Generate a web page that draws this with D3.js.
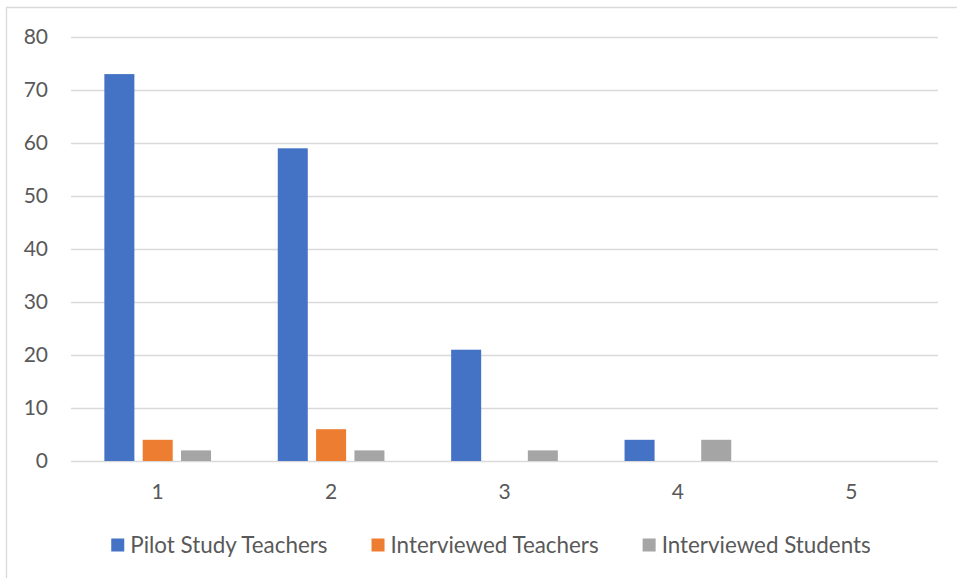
<!DOCTYPE html>
<html>
<head>
<meta charset="utf-8">
<title>Bar chart</title>
<style>
  body { margin: 0; background: #fff; }
  text { font-family: Lato, "Open Sans", sans-serif; fill: #595959; }
</style>
</head>
<body>
<div id="chart"></div>
<script src="https://d3js.org/d3.v7.min.js"></script>
<script>
// data
var categories = ["1", "2", "3", "4", "5"];
var seriesNames = ["Pilot Study Teachers", "Interviewed Teachers", "Interviewed Students"];
var pilotTeachers = [73, 59, 21, 4, 0];
var interviewedTeachers = [4, 6, 0, 0, 0];
var interviewedStudents = [2, 2, 2, 4, 0];
var yTicks = [0, 10, 20, 30, 40, 50, 60, 70, 80];
var colors = ["#4472C4", "#ED7D31", "#A5A5A5"];

var seriesValues = [pilotTeachers, interviewedTeachers, interviewedStudents];

var width = 957, height = 578;
var plotLeft = 71, plotRight = 938, plotTop = 37, plotBottom = 461;

var svg = d3.select("#chart").append("svg")
    .attr("width", width)
    .attr("height", height);

// outer frame
svg.append("path")
    .attr("d", "M6.5,578 V7.5 H957")
    .attr("fill", "none")
    .attr("stroke", "#d9d9d9")
    .attr("stroke-width", 1.3);

var y = d3.scaleLinear().domain([0, 80]).range([plotBottom, plotTop]);

var x0 = d3.scaleBand().domain(categories).range([plotLeft, plotRight])
    .paddingInner(0.337).paddingOuter(0.337 / 2);

var x1 = d3.scaleBand().domain(seriesNames).range([0, x0.bandwidth()])
    .paddingInner(0.217).paddingOuter(0.108);

// gridlines
svg.append("g").selectAll("line")
    .data(yTicks)
    .join("line")
    .attr("x1", plotLeft).attr("x2", plotRight)
    .attr("y1", function(d) { return Math.round(y(d)) + 0.5; })
    .attr("y2", function(d) { return Math.round(y(d)) + 0.5; })
    .attr("stroke", "#d9d9d9")
    .attr("stroke-width", 1.3);

// y labels
svg.append("g").selectAll("text")
    .data(yTicks)
    .join("text")
    .attr("x", 48)
    .attr("y", function(d) { return y(d); })
    .attr("dy", "0.35em")
    .attr("text-anchor", "end")
    .attr("font-size", 21)
    .text(function(d) { return d; });

// bars
var groups = svg.append("g").selectAll("g")
    .data(categories)
    .join("g")
    .attr("transform", function(d) { return "translate(" + x0(d) + ",0)"; });

groups.selectAll("rect")
    .data(function(c, i) {
        return seriesNames.map(function(s, j) {
            return { series: s, value: seriesValues[j][i], color: colors[j] };
        });
    })
    .join("rect")
    .filter(function(d) { return d.value > 0; })
    .attr("x", function(d) { return x1(d.series); })
    .attr("width", x1.bandwidth())
    .attr("y", function(d) { return y(d.value); })
    .attr("height", function(d) { return y(0) - y(d.value); })
    .attr("fill", function(d) { return d.color; });

// x labels
svg.append("g").selectAll("text")
    .data(categories)
    .join("text")
    .attr("x", function(d) { return x0(d) + x0.bandwidth() / 2; })
    .attr("y", 492)
    .attr("dy", "0.35em")
    .attr("text-anchor", "middle")
    .attr("font-size", 21)
    .text(function(d) { return d; });

// legend
var legend = svg.append("g");
var items = legend.selectAll("g")
    .data(seriesNames)
    .join("g");

items.append("rect")
    .attr("width", 13).attr("height", 13)
    .attr("y", 538.5)
    .attr("fill", function(d, i) { return colors[i]; });

items.append("text")
    .attr("x", 19)
    .attr("y", 545)
    .attr("dy", "0.35em")
    .attr("font-size", 22.4)
    .text(function(d) { return d; });

var gap = 44;
var xpos = 0, positions = [];
items.each(function() {
    positions.push(xpos);
    xpos += 19 + this.querySelector("text").getComputedTextLength() + gap;
});
var total = xpos - gap;
var start = 491 - total / 2;
items.attr("transform", function(d, i) { return "translate(" + (start + positions[i]) + ",0)"; });
</script>
</body>
</html>
